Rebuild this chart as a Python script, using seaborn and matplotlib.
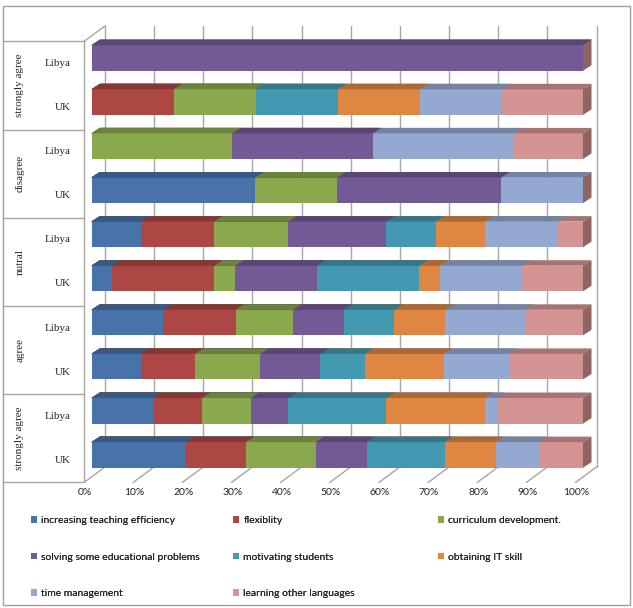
import matplotlib
matplotlib.use("Agg")
import matplotlib.pyplot as plt
from matplotlib.patches import Patch, Polygon, Rectangle
from matplotlib.colors import to_rgb
import seaborn as sns

# series names (legend order)
series = ["increasing teaching efficiency", "flexiblity", "curriculum development.",
          "solving some educational problems", "motivating students", "obtaining IT skill",
          "time management", "learning other languages"]
colors = ["#4773AA", "#AC4744", "#8AA84E", "#735995", "#4399B1", "#DE8642", "#94A9D1", "#D39493"]

# percentages, rows from top to bottom (Libya/UK inside each group)
teaching   = [0,   0,    0,    33.3, 10, 4.2,  14.6, 10.0, 12.5, 19.2]
flex       = [0,   16.7, 0,    0,    15, 20.8, 14.7, 11.1, 10,   12.2]
curriculum = [0,   16.7, 28.6, 16.7, 15, 4.2,  11.7, 13.2, 10,   14.2]
solving    = [100, 0,    28.6, 33.3, 20, 16.7, 10.3, 12.2, 7.5,  10.4]
motivating = [0,   16.7, 0,    0,    10, 20.8, 10.3, 9.2,  20,   15.9]
it_skill   = [0,   16.7, 0,    0,    10, 4.2,  10.4, 16.1, 20,   10.4]
time_mgmt  = [0,   16.7, 28.6, 16.7, 15, 16.7, 16.2, 13.2, 2.5,  8.8]
languages  = [0,   16.5, 14.2, 0,    5,  12.4, 11.8, 15.0, 17.5, 8.9]
values = [teaching, flex, curriculum, solving, motivating, it_skill, time_mgmt, languages]

groups = ["strongly agree", "disagree", "nutral", "agree", "strongly agree"]
countries = ["Libya", "UK"]
rows = [str(i) for i in range(10)]
ticks = list(range(0, 101, 10))

sns.set_style("white")
plt.rcParams["font.family"] = ["Lato", "DejaVu Sans"]

W, H = 633, 608
fig = plt.figure(figsize=(W / 100, H / 100), dpi=100)
AX_L, AX_R = 91.5, 583.0      # px of the bar front faces (0% .. 100%)
ROW0, PITCH = 58.0, 44.1      # px centre of first bar, px between bars
ax = fig.add_axes([AX_L / W, 1 - (ROW0 + PITCH * 10) / H, (AX_R - AX_L) / W, PITCH * 11 / H])
XS = (AX_R - AX_L) / 100


def off(x, y, dx, dy):
    # shift a data point by a pixel offset (y pixels downward)
    return x + dx / XS, y + dy / PITCH


def darker(c, f):
    r, g, b = to_rgb(c)
    return (r * f, g * f, b * f)


FRONT = (-7.5, 5.5)   # front plane of the 3d box
BACK = (13.5, -10.0)  # back wall
BAR_D = (8.5, -5.5)   # depth of the bars
BW = 0.58
grid_c = "#a6a6a6"

# back wall gridlines and floor ticks
for p in ticks:
    x0, y0 = off(p, -0.5, *BACK)
    x1, y1 = off(p, 9.5, *BACK)
    ax.plot([x0, x1], [y0, y1], color=grid_c, lw=1.0, zorder=0, clip_on=False)
    fx, fy = off(p, 9.5, *FRONT)
    ax.plot([fx, x1], [fy, y1], color=grid_c, lw=1.0, zorder=0, clip_on=False)
    ax.text(*off(p, 9.5, FRONT[0] + 1, FRONT[1] + 10), f"{p}%", ha="center", va="center",
            fontsize=7.5, color="#222222")

# left wall
lx0, ly0 = off(0, -0.5, *FRONT)
lx1, ly1 = off(0, 9.5, *FRONT)
bx0, by0 = off(0, -0.5, *BACK)
ax.plot([lx0, lx1], [ly0, ly1], color=grid_c, lw=1.0, zorder=0, clip_on=False)
ax.plot([lx0, bx0], [ly0, by0], color=grid_c, lw=1.0, zorder=0, clip_on=False)

# stacked bars, drawn as cumulative totals from the largest down
cums = []
run = [0.0] * 10
for v in values:
    run = [a + b for a, b in zip(run, v)]
    cums.append(run)

for k in range(7, -1, -1):
    sns.barplot(x=cums[k], y=rows, order=rows, color=colors[k], saturation=1, width=BW,
                orient="h", errorbar=None, ax=ax, linewidth=0)
    for i, c in enumerate(cums[k]):
        if c <= 0:
            continue
        top = i - BW / 2
        pts = [(0, top), (c, top), off(c, top, *BAR_D), off(0, top, *BAR_D)]
        ax.add_patch(Polygon(pts, closed=True, facecolor=darker(colors[k], 0.78),
                             edgecolor="none", clip_on=False))
        if k == 7:
            bot = i + BW / 2
            side = [(c, top), off(c, top, *BAR_D), off(c, bot, *BAR_D), (c, bot)]
            ax.add_patch(Polygon(side, closed=True, facecolor=darker(colors[k], 0.68),
                                 edgecolor="none", clip_on=False))

ax.set_xlim(0, 100)
ax.set_ylim(10, -1)
ax.set_axis_off()

# category table on the left
table_left = -(AX_L - 3) / XS
for g in range(6):
    y = g * 2 - 0.5
    xa, ya = off(0, y, *FRONT)
    ax.plot([table_left, xa], [ya, ya], color=grid_c, lw=1.0, clip_on=False)
for g, name in enumerate(groups):
    gx, gy = off(0, g * 2 + 0.5, *FRONT)
    ax.text(-(AX_L - 20) / XS, gy, name, rotation=90, ha="center", va="center",
            fontsize=8, family="Liberation Serif")
    for j, cn in enumerate(countries):
        cx, cy = off(0, g * 2 + j, *FRONT)
        ax.text(-(AX_L - 71) / XS, cy, cn, ha="right", va="center",
                fontsize=8, family="Liberation Serif")

# legend, three columns filled row by row
handles = [Patch(facecolor=c, edgecolor="none") for c in colors]
col_x = [31, 233, 438]
for col in range(3):
    idx = list(range(col, 8, 3))
    leg = fig.legend([handles[i] for i in idx], [series[i] for i in idx], loc="upper left",
                     bbox_to_anchor=(col_x[col] / W, 1 - 516 / H), frameon=False, fontsize=7.5,
                     handlelength=0.6, handleheight=0.6, handletextpad=0.4, borderpad=0,
                     labelspacing=2.65, borderaxespad=0)
    fig.add_artist(leg)

fig.add_artist(Rectangle((3 / W, 1 - 605 / H), 627 / W, 599 / H, transform=fig.transFigure,
                         fill=False, edgecolor="#a0a0a0", lw=1.0))

fig.savefig("out.png", dpi=100)
